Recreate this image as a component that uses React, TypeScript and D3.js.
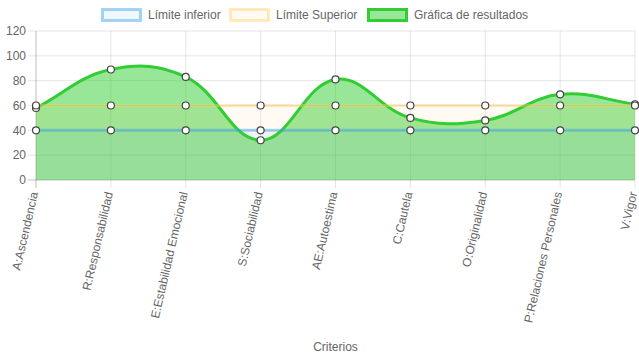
import React from "react";
import * as d3 from "d3";

const categories = [
  "A:Ascendencia",
  "R:Responsabilidad",
  "E:Estabilidad Emocional",
  "S:Sociabilidad",
  "AE:Autoestima",
  "C:Cautela",
  "O:Originalidad",
  "P:Relaciones Personales",
  "V:Vigor",
];
const limiteInferior = [40, 40, 40, 40, 40, 40, 40, 40, 40];
const limiteSuperior = [60, 60, 60, 60, 60, 60, 60, 60, 60];
const resultados = [58, 89, 83, 32, 81, 50, 48, 69, 61];
const yTicks = [0, 20, 40, 60, 80, 100, 120];
const legendLabels = ["Límite inferior", "Límite Superior", "Gráfica de resultados"];

const W = 639;
const H = 360;
const left = 36;
const right = 635;
const top = 31;
const bottom = 180;
const FONT = "'Liberation Sans', Arial, Helvetica, sans-serif";
const TXT = "#666";

type P = { x: number; y: number };

function splinePath(pts: P[], t: number, closeTo?: number): string {
  const ctrl = pts.map((cur, i) => {
    const prev = i > 0 ? pts[i - 1] : cur;
    const next = i < pts.length - 1 ? pts[i + 1] : cur;
    const d01 = Math.hypot(cur.x - prev.x, cur.y - prev.y);
    const d12 = Math.hypot(next.x - cur.x, next.y - cur.y);
    let s01 = d01 / (d01 + d12);
    let s12 = d12 / (d01 + d12);
    if (isNaN(s01)) s01 = 0;
    if (isNaN(s12)) s12 = 0;
    const fa = t * s01;
    const fb = t * s12;
    const clampY = (v: number) => Math.max(top, Math.min(bottom, v));
    const clampX = (v: number) => Math.max(left, Math.min(right, v));
    return {
      prev: { x: clampX(cur.x - fa * (next.x - prev.x)), y: clampY(cur.y - fa * (next.y - prev.y)) },
      next: { x: clampX(cur.x + fb * (next.x - prev.x)), y: clampY(cur.y + fb * (next.y - prev.y)) },
    };
  });
  const p = d3.path();
  p.moveTo(pts[0].x, pts[0].y);
  for (let i = 1; i < pts.length; i++) {
    const a = ctrl[i - 1].next;
    const b = ctrl[i].prev;
    p.bezierCurveTo(a.x, a.y, b.x, b.y, pts[i].x, pts[i].y);
  }
  if (closeTo !== undefined) {
    p.lineTo(pts[pts.length - 1].x, closeTo);
    p.lineTo(pts[0].x, closeTo);
    p.closePath();
  }
  return p.toString();
}

export default function App() {
  const x = d3.scalePoint<string>().domain(categories).range([left, right]);
  const y = d3.scaleLinear().domain([0, 120]).range([bottom, top]);

  const datasets = [
    {
      label: legendLabels[0],
      values: limiteInferior,
      stroke: "rgba(54,162,235,0.45)",
      fill: "rgba(54,162,235,0.08)",
    },
    {
      label: legendLabels[1],
      values: limiteSuperior,
      stroke: "rgba(255,206,86,0.4)",
      fill: "rgba(255,206,86,0.08)",
    },
    {
      label: legendLabels[2],
      values: resultados,
      stroke: "#32cd32",
      fill: "rgba(50,205,50,0.5)",
    },
  ];

  const toPts = (vals: number[]) => vals.map((v, i) => ({ x: x(categories[i])!, y: y(v) }));

  const legendX = [101, 229, 367];
  const drawOrder = [2, 1, 0];

  return (
    <svg
      width={W}
      height={H}
      style={{ position: "absolute", left: 0, top: 0, display: "block" }}
      fontFamily={FONT}
    >
      <rect width={W} height={H} fill="#fff" />
      {yTicks.map((t) => (
        <line
          key={"hg" + t}
          x1={left - 8}
          x2={right}
          y1={y(t)}
          y2={y(t)}
          stroke={t === 0 ? "rgba(0,0,0,0.25)" : "rgba(0,0,0,0.1)"}
          strokeWidth={1}
        />
      ))}
      {categories.map((c) => (
        <line
          key={"vg" + c}
          x1={x(c)!}
          x2={x(c)!}
          y1={top}
          y2={bottom + 8}
          stroke={c === categories[0] ? "rgba(0,0,0,0.25)" : "rgba(0,0,0,0.1)"}
          strokeWidth={1}
        />
      ))}
      {drawOrder.map((di) => {
        const ds = datasets[di];
        return <path key={"f" + di} d={splinePath(toPts(ds.values), 0.4, bottom)} fill={ds.fill} stroke="none" />;
      })}
      {drawOrder.map((di) => {
        const ds = datasets[di];
        const pts = toPts(ds.values);
        return (
          <g key={"l" + di}>
            <path d={splinePath(pts, 0.4)} fill="none" stroke={ds.stroke} strokeWidth={3} />
            {pts.map((p, i) => (
              <circle key={i} cx={p.x} cy={p.y} r={3.5} fill="#fff" stroke="#444" strokeWidth={1.2} />
            ))}
          </g>
        );
      })}
      {yTicks.map((t) => (
        <text key={"yt" + t} x={left - 10} y={y(t)} dy="0.35em" textAnchor="end" fontSize={12} fill={TXT}>
          {t}
        </text>
      ))}
      {categories.map((c) => (
        <text
          key={"xt" + c}
          transform={`translate(${x(c)! - 2},${bottom + 12}) rotate(-77)`}
          textAnchor="end"
          dy="0.35em"
          fontSize={12}
          fill={TXT}
        >
          {c}
        </text>
      ))}
      <text x={(left + right) / 2} y={351} textAnchor="middle" fontSize={12} fill={TXT}>
        Criterios
      </text>
      {datasets.map((ds, i) => (
        <g key={"lg" + i}>
          <rect x={legendX[i] + 1.5} y={9.5} width={38} height={11} fill={ds.fill} stroke={ds.stroke} strokeWidth={3} />
          <text x={legendX[i] + 47} y={15} dy="0.35em" fontSize={12} fill={TXT}>
            {ds.label}
          </text>
        </g>
      ))}
    </svg>
  );
}
